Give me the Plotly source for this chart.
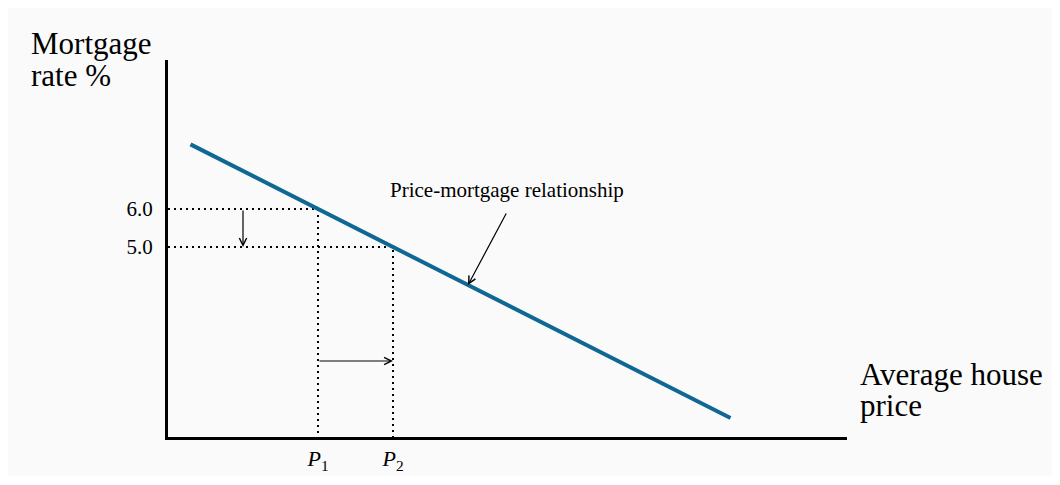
import plotly.graph_objects as go

# values
rates = [6.0, 5.0]
rate_labels = ["6.0", "5.0"]
prices = [2, 3]
price_labels = ["<i>P</i><sub>1</sub>", "<i>P</i><sub>2</sub>"]
curve_x = [0.3, 7.5]
curve_y = [7.7, 0.5]

blue = "#0f6894"
serif = "Liberation Serif, Times New Roman, serif"

fig = go.Figure()

# dotted guide lines from each rate to the curve and down to the price axis
for p, r in zip(prices, rates):
    fig.add_trace(go.Scatter(x=[0, p, p], y=[r, r, 0], mode="lines",
                             line=dict(color="black", width=2, dash="2px,4px"),
                             hoverinfo="skip", showlegend=False))

fig.add_trace(go.Scatter(x=curve_x, y=curve_y, mode="lines",
                         line=dict(color=blue, width=4), showlegend=False))

# shift arrows
fig.add_annotation(x=1, y=rates[1], ax=1, ay=rates[0], xref="x", yref="y",
                   axref="x", ayref="y", text="", showarrow=True,
                   arrowhead=5, arrowsize=1.2, arrowwidth=1.2, arrowcolor="black")
fig.add_annotation(x=prices[1], y=2, ax=prices[0], ay=2, xref="x", yref="y",
                   axref="x", ayref="y", text="", showarrow=True,
                   arrowhead=5, arrowsize=1.2, arrowwidth=1.2, arrowcolor="black")

# curve label
fig.add_annotation(x=4.52, y=6.5, xref="x", yref="y", text="Price-mortgage relationship",
                   showarrow=False, font=dict(family=serif, size=21, color="black"))
fig.add_annotation(x=4.0, y=4.0, ax=4.52, ay=5.92, xref="x", yref="y",
                   axref="x", ayref="y", text="", showarrow=True,
                   arrowhead=5, arrowsize=1.2, arrowwidth=1.2, arrowcolor="black")

# axis titles (positions relative to the plot area)
title_font = dict(family=serif, size=31, color="black")
for txt, px, py in [("Mortgage", 29, 44), ("rate %", 29, 75),
                    ("Average house", 858, 374), ("price", 858, 405)]:
    fig.add_annotation(x=(px - 168) / 679, y=(437 - py) / 377, xref="paper", yref="paper",
                       text=txt, showarrow=False, xanchor="left", yanchor="middle",
                       font=title_font)

fig.update_xaxes(range=[0, 679 / 75], showgrid=False, zeroline=False,
                 showline=True, linewidth=3, linecolor="black",
                 tickvals=prices, ticktext=price_labels, ticks="",
                 ticklabelstandoff=0, automargin=False,
                 tickfont=dict(family=serif, size=22, color="black"))
fig.update_yaxes(range=[0, 377 / 38], showgrid=False, zeroline=False,
                 showline=True, linewidth=3, linecolor="black",
                 tickvals=rates, ticktext=rate_labels, ticks="",
                 ticklabelstandoff=8, automargin=False,
                 tickfont=dict(family=serif, size=21, color="black"))

fig.update_layout(width=1044, height=468, paper_bgcolor="#fafafa",
                  plot_bgcolor="rgba(0,0,0,0)",
                  margin=dict(l=160, r=205, t=52, b=39))

fig.write_html("out.html")
